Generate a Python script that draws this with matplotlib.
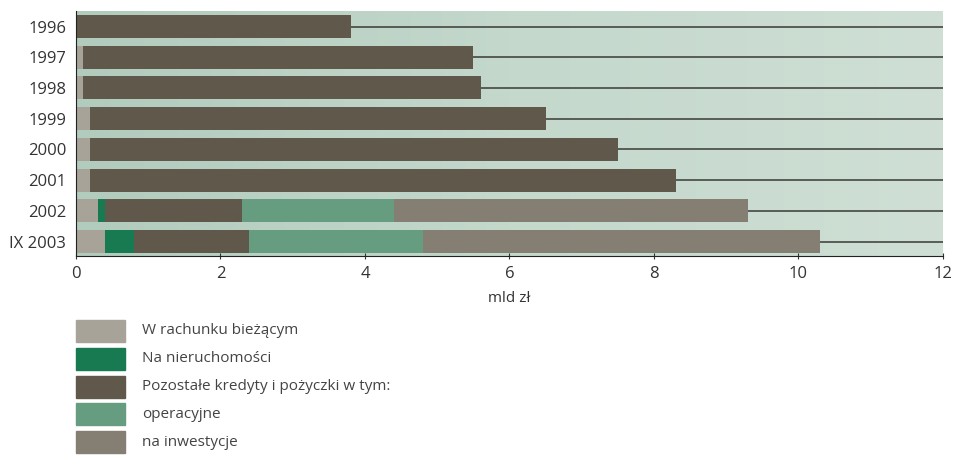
import matplotlib.pyplot as plt
import numpy as np
from matplotlib.colors import LinearSegmentedColormap
from matplotlib.patches import Rectangle

plt.rcParams['font.family'] = ['Open Sans', 'DejaVu Sans']

# Dane (mld zł)
lata = ['1996', '1997', '1998', '1999', '2000', '2001', '2002', 'IX 2003']
rachunek = [0.0, 0.1, 0.1, 0.2, 0.2, 0.2, 0.3, 0.4]
nieruchomosci = [0.0, 0.0, 0.0, 0.0, 0.0, 0.0, 0.1, 0.4]
pozostale = [3.8, 5.4, 5.5, 6.3, 7.3, 8.1, 1.9, 1.6]
operacyjne = [0.0, 0.0, 0.0, 0.0, 0.0, 0.0, 2.1, 2.4]
inwestycje = [0.0, 0.0, 0.0, 0.0, 0.0, 0.0, 4.9, 5.5]

serie = [rachunek, nieruchomosci, pozostale, operacyjne, inwestycje]
etykiety = ['W rachunku bieżącym', 'Na nieruchomości',
            'Pozostałe kredyty i pożyczki w tym:', 'operacyjne', 'na inwestycje']
kolory = ['#a8a398', '#177a51', '#5f584b', '#669c80', '#857e72']

fig = plt.figure(figsize=(9.54, 4.55), dpi=100)
ax = fig.add_axes([76 / 954, 1 - 256 / 455, 867 / 954, 245 / 455])

y = np.arange(len(lata))
ylim = (7.47, -0.505)

# tło z gradientem
cmap = LinearSegmentedColormap.from_list('tlo', ['#b1cbbd', '#c4d8cc', '#cfdfd5'])
grad = np.linspace(0, 1, 256).reshape(1, -1)
ax.imshow(grad, cmap=cmap, extent=[0, 12, ylim[0], ylim[1]], aspect='auto', zorder=0)

# linie poziome
ax.hlines(y, 0, 12, color='#3a3a36', lw=1.1, zorder=1)

left = np.zeros(len(lata))
for vals, kol in zip(serie, kolory):
    ax.barh(y, vals, left=left, height=0.75, color=kol, zorder=2)
    left += np.array(vals)

ax.set_xlim(0, 12)
ax.set_ylim(*ylim)
ax.set_yticks(y)
ax.set_yticklabels(lata)
ax.set_xticks(range(0, 13, 2))
ax.tick_params(axis='y', length=0, labelsize=12, pad=7, colors='#333333')
ax.tick_params(axis='x', length=4, direction='inout', labelsize=12, pad=5, colors='#333333')
ax.set_xlabel('mld zł', fontsize=11, color='#333333', labelpad=7)
for s in ['top', 'right']:
    ax.spines[s].set_visible(False)
ax.spines['left'].set_color('#222222')
ax.spines['bottom'].set_color('#222222')

# legenda
for i, (et, kol) in enumerate(zip(etykiety, kolory)):
    yc = 331 + i * 27.8
    fig.add_artist(Rectangle((76 / 954, 1 - (yc + 11) / 455), 49 / 954, 22 / 455,
                             transform=fig.transFigure, color=kol))
    fig.text(142 / 954, 1 - yc / 455, et, fontsize=11, color='#444444', va='center')

fig.savefig('out.png', dpi=100)
